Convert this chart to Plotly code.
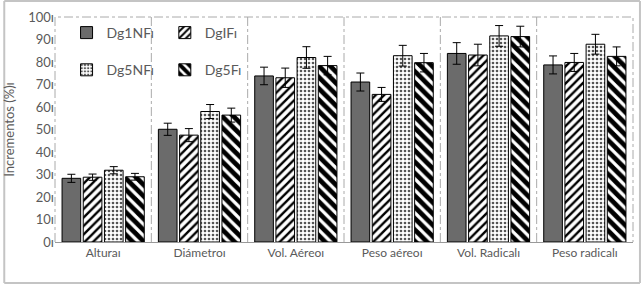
import plotly.graph_objects as go

categories = ["Alturaı", "Diámetroı", "Vol. Aéreoı", "Peso aéreoı", "Vol. Radicalı", "Peso radicalı"]
series_names = ["Dg1NFı", "DgIFı", "Dg5NFı", "Dg5Fı"]
dg1nf = [28.3, 50.1, 73.8, 71.1, 83.8, 78.7]
dgif = [28.8, 47.5, 73.0, 65.6, 83.1, 79.8]
dg5nf = [31.9, 58.0, 82.0, 82.8, 91.6, 87.9]
dg5f = [29.0, 56.4, 78.4, 79.7, 91.3, 82.5]
err_dg1nf = [1.8, 2.7, 3.9, 4.0, 4.8, 4.0]
err_dgif = [1.4, 2.9, 4.3, 3.1, 4.8, 4.0]
err_dg5nf = [1.6, 3.1, 4.8, 4.6, 4.6, 4.4]
err_dg5f = [1.5, 3.1, 4.1, 4.1, 4.6, 4.2]
y_ticks = [0, 10, 20, 30, 40, 50, 60, 70, 80, 90, 100]

TXT = "#5a5a5a"
FONT = "Lato, 'Open Sans', sans-serif"

styles = [
    dict(color="#6b6b6b", pattern=None, legend="legend"),
    dict(color="white", pattern=dict(shape="/", fgcolor="black", bgcolor="white", size=6, solidity=0.4, fgopacity=1), legend="legend2"),
    dict(color="white", pattern=dict(shape=".", fgcolor="#555", bgcolor="white", size=4, solidity=0.35, fgopacity=1), legend="legend"),
    dict(color="white", pattern=dict(shape="\\", fgcolor="black", bgcolor="white", size=8, solidity=0.6, fgopacity=1), legend="legend2"),
]
values = [dg1nf, dgif, dg5nf, dg5f]
errors = [err_dg1nf, err_dgif, err_dg5nf, err_dg5f]

fig = go.Figure()
for name, vals, errs, st in zip(series_names, values, errors, styles):
    marker = dict(color=st["color"], line=dict(color="black", width=1))
    if st["pattern"]:
        marker["pattern"] = st["pattern"]
    fig.add_trace(go.Bar(
        x=categories, y=vals, name=name, marker=marker,
        error_y=dict(type="data", array=errs, color="black", thickness=1, width=4),
        legend=st["legend"], legendgroup=name,
    ))

# vertical dash-dot separators between groups
for i in range(1, len(categories)):
    fig.add_shape(type="line", xref="x", yref="paper", x0=i - 0.5, x1=i - 0.5, y0=0, y1=1,
                  line=dict(color="#aaaaaa", width=1, dash="dashdot"))
# plot frame (left, top, right) dash-dot
fig.add_shape(type="path", xref="paper", yref="paper", path="M 0,0 L 0,1 L 1,1 L 1,0",
              line=dict(color="#aaaaaa", width=1, dash="dashdot"))
# outer image border (four edges)
W, H, L, T, PW, PH = 642, 286, 52, 17, 581, 225
def px(x):
    return (x - L) / PW
def py(y):
    return (T + PH - y) / PH
for (xa, ya, xb, yb) in [(1, 1, 640, 1), (640, 1, 640, 283), (1, 283, 640, 283), (1, 1, 1, 283)]:
    fig.add_shape(type="line", xref="paper", yref="paper", x0=px(xa), y0=py(ya), x1=px(xb), y1=py(yb),
                  line=dict(color="#c4c4c4", width=2))

fig.update_layout(
    width=W, height=H,
    margin=dict(l=L, r=W - L - PW, t=T, b=H - T - PH),
    paper_bgcolor="white", plot_bgcolor="white",
    barmode="group", bargap=0.12, bargroupgap=0.12,
    font=dict(family=FONT, color=TXT, size=12),
    legend=dict(x=0.02, y=1.0, xanchor="left", yanchor="top", bgcolor="rgba(0,0,0,0)",
                font=dict(size=14, color=TXT), traceorder="grouped", tracegroupgap=16),
    legend2=dict(x=0.19, y=1.0, xanchor="left", yanchor="top", bgcolor="rgba(0,0,0,0)",
                 font=dict(size=14, color=TXT), traceorder="grouped", tracegroupgap=16),
    yaxis=dict(range=[0, 100], tickvals=y_ticks, ticktext=[f"{v}ı" for v in y_ticks],
               showgrid=False, zeroline=False, showline=False, ticks="",
               tickfont=dict(size=13, color=TXT),
               title=dict(text="Incrementos (%)ı", font=dict(size=13, color=TXT), standoff=10)),
    xaxis=dict(showline=True, linecolor="#999999", linewidth=1, ticks="",
               tickfont=dict(size=12, color=TXT)),
)

fig.write_html("out.html", config={"displayModeBar": False},
               post_script="document.body.style.margin='0';")
